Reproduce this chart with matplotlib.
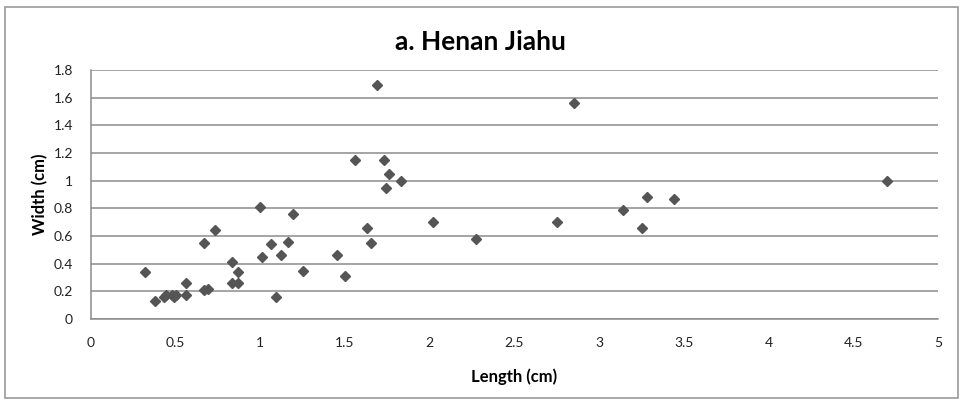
import matplotlib.pyplot as plt
from matplotlib.patches import Rectangle

length_cm = [0.32, 0.38, 0.43, 0.44, 0.48, 0.50, 0.49, 0.56, 0.56, 0.67, 0.67, 0.69,
             0.73, 0.83, 0.83, 0.87, 0.87, 1.00, 1.01, 1.06, 1.09, 1.12, 1.16, 1.19,
             1.25, 1.45, 1.50, 1.56, 1.63, 1.65, 1.69, 1.73, 1.74, 1.76, 1.83, 2.02,
             2.27, 2.75, 2.85, 3.14, 3.25, 3.28, 3.44, 4.70]
width_cm = [0.34, 0.13, 0.16, 0.17, 0.17, 0.17, 0.16, 0.26, 0.17, 0.55, 0.21, 0.22,
            0.64, 0.41, 0.26, 0.34, 0.26, 0.81, 0.45, 0.54, 0.16, 0.46, 0.56, 0.76,
            0.35, 0.46, 0.31, 1.15, 0.66, 0.55, 1.69, 1.15, 0.95, 1.05, 1.00, 0.70,
            0.58, 0.70, 1.56, 0.79, 0.66, 0.88, 0.87, 1.00]

x_ticks = [0, 0.5, 1, 1.5, 2, 2.5, 3, 3.5, 4, 4.5, 5]
x_labels = ['0', '0.5', '1', '1.5', '2', '2.5', '3', '3.5', '4', '4.5', '5']
y_ticks = [0, 0.2, 0.4, 0.6, 0.8, 1, 1.2, 1.4, 1.6, 1.8]
y_labels = ['0', '0.2', '0.4', '0.6', '0.8', '1', '1.2', '1.4', '1.6', '1.8']

plt.rcParams['font.family'] = ['Lato', 'DejaVu Sans']
grey = '#8c8c8c'

fig = plt.figure(figsize=(9.61, 4.01), dpi=100)
# outer chart border like an Excel chart area
fig.patches.append(Rectangle((5 / 961, 3 / 401), 953 / 961, 391 / 401,
                             transform=fig.transFigure, fill=False,
                             edgecolor='#9a9a9a', linewidth=1.2))

ax = fig.add_axes([91 / 961, 1 - 319 / 401, (938 - 91) / 961, (319 - 70) / 401])
ax.plot(length_cm, width_cm, linestyle='none', marker='D', markersize=5.3,
        color='#555555', zorder=3, clip_on=False)

ax.set_xlim(0, 5)
ax.set_ylim(0, 1.8)
ax.set_xticks(x_ticks, x_labels)
ax.set_yticks(y_ticks, y_labels)
ax.tick_params(length=0, labelsize=10, colors='#222222')
ax.tick_params(axis='x', pad=13)
ax.tick_params(axis='y', pad=13)
ax.grid(axis='y', color=grey, linewidth=1.1)
ax.set_axisbelow(True)
for s in ['top', 'right']:
    ax.spines[s].set_visible(False)
for s in ['left', 'bottom']:
    ax.spines[s].set_color(grey)
    ax.spines[s].set_linewidth(1.1)

ax.set_xlabel('Length (cm)', fontsize=12, fontweight='bold', labelpad=14)
ax.set_ylabel('Width (cm)', fontsize=12, fontweight='bold', labelpad=4)
fig.text(0.5, 1 - 42 / 401, 'a. Henan Jiahu', ha='center', va='center',
         fontsize=19, fontweight='bold')

fig.savefig('out.png', dpi=100)
